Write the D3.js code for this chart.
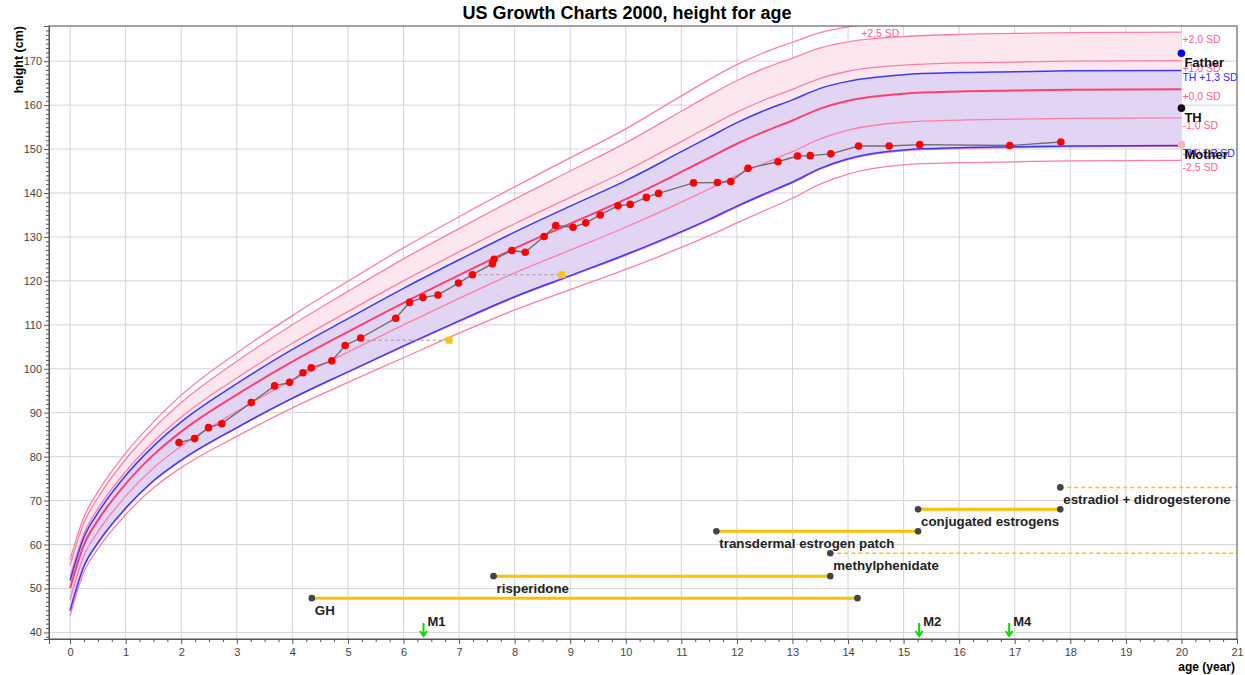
<!DOCTYPE html>
<html>
<head>
<meta charset="utf-8">
<script src="https://cdn.jsdelivr.net/npm/d3@7"></script>
<style>
  body { margin: 0; background: #fff; }
  text { font-family: "Liberation Sans", Arial, sans-serif; }
</style>
</head>
<body>
<svg id="chart"></svg>
<script>
// reference curve ages (years)
const refAges = [0, 0.25, 0.5, 1, 1.5, 2, 3, 4, 5, 6, 7, 8, 9, 10, 11, 11.5, 12, 12.5, 13, 13.5, 14, 15, 16, 17, 18, 20];

// SD curves (cm)
const sdPlus25  = [56.6, 66.3, 72.0, 80.8, 87.9, 94.0, 103.6, 112.1, 119.9, 127.5, 134.6, 141.4, 148.0, 154.6, 162.1, 165.8, 169.2, 172.0, 174.3, 176.5, 177.8, 178.9, 179.4, 179.6, 179.8, 179.9];
const sdPlus20  = [55.3, 65.0, 70.7, 79.4, 86.4, 92.3, 101.7, 110.0, 117.6, 125.0, 131.9, 138.6, 145.0, 151.4, 158.6, 162.2, 165.6, 168.4, 170.7, 173.0, 174.4, 175.6, 176.1, 176.3, 176.5, 176.6];
const sdPlus10  = [52.7, 62.5, 68.1, 76.6, 83.4, 89.0, 97.9, 105.8, 113.0, 120.0, 126.6, 133.0, 139.0, 145.0, 151.7, 155.1, 158.4, 161.2, 163.6, 166.1, 167.7, 169.1, 169.6, 169.8, 170.0, 170.1];
const sdZero    = [50.1, 60.0, 65.5, 73.8, 80.4, 85.7, 94.1, 101.6, 108.4, 115.0, 121.3, 127.4, 133.0, 138.6, 144.8, 148.0, 151.2, 154.0, 156.5, 159.2, 161.0, 162.6, 163.1, 163.3, 163.5, 163.6];
const sdMinus10 = [47.5, 57.5, 62.9, 71.0, 77.4, 82.4, 90.3, 97.4, 103.8, 110.0, 116.0, 121.8, 127.0, 132.2, 137.9, 140.9, 144.0, 146.8, 149.4, 152.3, 154.3, 156.1, 156.6, 156.8, 157.0, 157.1];
const sdMinus20 = [44.9, 55.0, 60.3, 68.2, 74.4, 79.1, 86.5, 93.2, 99.2, 105.0, 110.7, 116.2, 121.0, 125.8, 131.0, 133.8, 136.8, 139.6, 142.3, 145.4, 147.6, 149.6, 150.1, 150.3, 150.5, 150.6];
const sdMinus25 = [43.8, 53.8, 59.0, 66.8, 72.9, 77.5, 84.6, 91.1, 96.9, 102.5, 108.1, 113.4, 118.0, 122.6, 127.6, 130.3, 133.2, 136.0, 138.8, 142.0, 144.3, 146.4, 146.9, 147.1, 147.3, 147.4];

// target height range (TH +/- 1,3 SD)
const thUpper = [51.8, 61.7, 67.2, 75.7, 82.4, 87.9, 96.6, 104.4, 111.4, 118.3, 124.8, 131.1, 137.0, 142.8, 149.4, 152.7, 156.0, 158.8, 161.2, 163.8, 165.4, 166.9, 167.4, 167.6, 167.8, 167.9];
const thLower = [45.0, 55.1, 60.4, 68.3, 74.5, 79.2, 86.6, 93.3, 99.3, 105.2, 110.9, 116.4, 121.2, 126.0, 131.2, 134.0, 137.0, 139.8, 142.5, 145.6, 147.8, 149.8, 150.3, 150.5, 150.7, 150.8];

// patient measurements
const measAge = [1.96, 2.24, 2.49, 2.73, 3.26, 3.68, 3.95, 4.19, 4.34, 4.71, 4.95, 5.23, 5.86, 6.11, 6.35, 6.62, 6.99, 7.24, 7.60, 7.63, 7.95, 8.19, 8.53, 8.74, 9.05, 9.28, 9.54, 9.86, 10.08, 10.37, 10.59, 11.22, 11.65, 11.89, 12.20, 12.74, 13.09, 13.32, 13.69, 14.19, 14.74, 15.29, 16.91, 17.83];
const measHeight = [83.2, 84.1, 86.6, 87.5, 92.3, 96.1, 96.9, 99.1, 100.2, 101.8, 105.3, 107.0, 111.5, 115.1, 116.2, 116.8, 119.5, 121.4, 123.9, 124.9, 126.9, 126.5, 130.1, 132.6, 132.2, 133.2, 135.0, 137.1, 137.4, 139.0, 139.9, 142.3, 142.4, 142.6, 145.6, 147.1, 148.4, 148.5, 148.9, 150.7, 150.7, 151.0, 150.8, 151.6];

// bone age
const boneChronoAge = [5.23, 7.24];
const boneAgeVal = [6.82, 8.85];
const boneHeight = [106.5, 121.4];

// parents and target height, plotted at age 20
const famNames = ["Father", "TH", "Mother"];
const famHeight = [171.8, 159.3, 151.0];
const famColor = ["#0000ff", "#111111", "#ffb3bd"];

// treatments
const txNames = ["GH", "risperidone", "methylphenidate", "transdermal estrogen patch", "conjugated estrogens", "estradiol + didrogesterone"];
const txStart = [4.35, 7.62, 13.68, 11.63, 15.26, 17.82];
const txEnd = [14.17, 13.68, null, 15.26, 17.82, null];
const txRow = [47.8, 52.8, 58.0, 63.0, 68.0, 73.0];

// pubertal milestones
const msNames = ["M1", "M2", "M4"];
const msAge = [6.36, 15.28, 16.9];

const width = 1245, height = 675;
const margin = { top: 26, right: 8, bottom: 36, left: 49 };

const svg = d3.select("#chart").attr("width", width).attr("height", height);

const x = d3.scaleLinear().domain([-0.38, 21]).range([margin.left, width - margin.right]);
const y = d3.scaleLinear().domain([38.5, 178]).range([height - margin.bottom, margin.top]);

const x0 = x.range()[0], x1 = x.range()[1], yB = y.range()[0], yT = y.range()[1];

svg.append("defs").append("clipPath").attr("id", "plot")
  .append("rect").attr("x", x0).attr("y", yT).attr("width", x1 - x0).attr("height", yB - yT);

// title
svg.append("text")
  .attr("x", 627).attr("y", 19)
  .attr("text-anchor", "middle")
  .style("font-size", "18px").style("font-weight", "bold")
  .text("US Growth Charts 2000, height for age");

// grid
const grid = svg.append("g").attr("stroke", "#d4d4d4").attr("stroke-width", 1);
grid.selectAll(".vx").data(d3.range(0, 21)).join("line")
  .attr("x1", d => x(d)).attr("x2", d => x(d)).attr("y1", yT).attr("y2", yB);
grid.selectAll(".hy").data(d3.range(40, 171, 10)).join("line")
  .attr("x1", x0).attr("x2", x1).attr("y1", d => y(d)).attr("y2", d => y(d));

const plot = svg.append("g").attr("clip-path", "url(#plot)");

const idx = d3.range(refAges.length);
const band = (lo, hi) => d3.area().curve(d3.curveMonotoneX)
  .x(i => x(refAges[i])).y0(i => y(lo[i])).y1(i => y(hi[i]));
const curve = arr => d3.line().curve(d3.curveMonotoneX)
  .x(i => x(refAges[i])).y(i => y(arr[i]));

plot.append("path").datum(idx).attr("fill", "#fde7ef").attr("d", band(sdMinus20, sdPlus20));
plot.append("path").datum(idx).attr("fill", "#e2d4f3").attr("d", band(thLower, thUpper));

const sdLines = [sdPlus25, sdPlus20, sdPlus10, sdMinus10, sdMinus20, sdMinus25];
sdLines.forEach(arr => {
  plot.append("path").datum(idx).attr("fill", "none")
    .attr("stroke", "#ff7ea6").attr("stroke-width", 1.3).attr("d", curve(arr));
});
plot.append("path").datum(idx).attr("fill", "none")
  .attr("stroke", "#ff3f72").attr("stroke-width", 2).attr("d", curve(sdZero));
[thUpper, thLower].forEach(arr => {
  plot.append("path").datum(idx).attr("fill", "none")
    .attr("stroke", "#3838ff").attr("stroke-width", 1.5).attr("d", curve(arr));
});

// SD labels at the right end
const last = refAges.length - 1;
const sdLabels = [
  { t: "+2,0 SD", v: sdPlus20[last], c: "#ff5c8d" },
  { t: "+1,0 SD", v: sdPlus10[last], c: "#ff5c8d" },
  { t: "TH +1,3 SD", v: thUpper[last], c: "#2a2aff" },
  { t: "+0,0 SD", v: sdZero[last], c: "#ff5c8d" },
  { t: "-1,0 SD", v: sdMinus10[last], c: "#ff5c8d" },
  { t: "-2,0 SD", v: sdMinus20[last], c: "#ff5c8d" },
  { t: "TH -1,3 SD", v: thLower[last], c: "#2a2aff" },
  { t: "-2,5 SD", v: sdMinus25[last], c: "#ff5c8d" }
];
svg.selectAll(".sdl").data(sdLabels).join("text")
  .attr("x", x(20) + 1).attr("y", d => y(d.v) + 11)
  .attr("fill", d => d.c).style("font-size", "10.5px")
  .text(d => d.t);

// +2,5 SD label where the curve leaves the top
const topIdx = sdPlus25.findIndex(v => v > y.domain()[1]);
const crossAge = refAges[topIdx - 1] + (y.domain()[1] - sdPlus25[topIdx - 1]) /
  (sdPlus25[topIdx] - sdPlus25[topIdx - 1]) * (refAges[topIdx] - refAges[topIdx - 1]);
svg.append("text").attr("x", x(crossAge) + 3).attr("y", yT + 11)
  .attr("fill", "#ff5c8d").style("font-size", "10.5px").text("+2,5 SD");

// bone age
boneChronoAge.forEach((a, i) => {
  plot.append("line")
    .attr("x1", x(a)).attr("x2", x(boneAgeVal[i]))
    .attr("y1", y(boneHeight[i])).attr("y2", y(boneHeight[i]))
    .attr("stroke", "#999").attr("stroke-dasharray", "3,3");
});
plot.selectAll(".ba").data(boneAgeVal).join("rect")
  .attr("x", d => x(d) - 3.5).attr("y", (d, i) => y(boneHeight[i]) - 3.5)
  .attr("width", 7).attr("height", 7).attr("fill", "#ffc20e");

// measurements
const meas = d3.range(measAge.length);
plot.append("path").datum(meas).attr("fill", "none").attr("stroke", "#6e6e6e").attr("stroke-width", 1.4)
  .attr("d", d3.line().x(i => x(measAge[i])).y(i => y(measHeight[i])));
plot.selectAll(".pt").data(meas).join("circle")
  .attr("cx", i => x(measAge[i])).attr("cy", i => y(measHeight[i]))
  .attr("r", 3.8).attr("fill", "#ff0000");

// treatments
txNames.forEach((name, i) => {
  const xs = x(txStart[i]);
  const xe = txEnd[i] === null ? x1 : x(txEnd[i]);
  const yy = y(txRow[i]);
  svg.append("line").attr("x1", xs).attr("x2", xe).attr("y1", yy).attr("y2", yy)
    .attr("stroke", "#ffc000")
    .attr("stroke-width", txEnd[i] === null ? 1.5 : 3)
    .attr("stroke-dasharray", txEnd[i] === null ? "4,3" : null);
  svg.append("circle").attr("cx", xs).attr("cy", yy).attr("r", 3.3).attr("fill", "#444");
  if (txEnd[i] !== null) svg.append("circle").attr("cx", xe).attr("cy", yy).attr("r", 3.3).attr("fill", "#444");
  svg.append("text").attr("x", xs + 3).attr("y", yy + 17)
    .style("font-size", "13.3px").style("font-weight", "bold").attr("fill", "#222").text(name);
});

// milestones
msNames.forEach((name, i) => {
  const xm = x(msAge[i]);
  svg.append("path")
    .attr("d", `M${xm},${yB - 16}V${yB - 4}M${xm - 3.5},${yB - 8}L${xm},${yB - 3}L${xm + 3.5},${yB - 8}`)
    .attr("fill", "none").attr("stroke", "#00dd00").attr("stroke-width", 2);
  svg.append("text").attr("x", xm + 4).attr("y", yB - 13)
    .style("font-size", "13px").style("font-weight", "bold").attr("fill", "#222").text(name);
});

// parents and target height
famNames.forEach((name, i) => {
  svg.append("circle").attr("cx", x(20)).attr("cy", y(famHeight[i])).attr("r", 3.8).attr("fill", famColor[i]);
  svg.append("text").attr("x", x(20) + 3).attr("y", y(famHeight[i]) + 14)
    .style("font-size", "13px").style("font-weight", "bold").attr("fill", "#111").text(name);
});

// frame
svg.append("rect").attr("x", x0).attr("y", yT).attr("width", x1 - x0).attr("height", yB - yT)
  .attr("fill", "none").attr("stroke", "#666").attr("stroke-width", 1.2);

// axes
svg.append("g").attr("transform", `translate(0,${yB})`)
  .call(d3.axisBottom(x).tickValues(d3.range(0, 22)).tickFormat(d3.format("d")).tickSize(5).tickPadding(4));
svg.append("g").attr("transform", `translate(0,${yB})`)
  .call(d3.axisBottom(x).tickValues(d3.range(0, 21, 0.25).filter(d => d % 1 !== 0)).tickFormat("").tickSize(3))
  .select(".domain").remove();
svg.append("g").attr("transform", `translate(${x0},0)`)
  .call(d3.axisLeft(y).tickValues(d3.range(40, 171, 10)).tickSize(5).tickPadding(2));
svg.append("g").attr("transform", `translate(${x0},0)`)
  .call(d3.axisLeft(y).tickValues(d3.range(39, 178, 1).filter(d => d % 10 !== 0)).tickFormat("").tickSize(3))
  .select(".domain").remove();
svg.selectAll(".tick text").style("font-size", "11px").attr("fill", "#444");
svg.selectAll(".domain, .tick line").attr("stroke", "#555");

svg.append("text")
  .attr("transform", "translate(23,26) rotate(-90)")
  .attr("text-anchor", "end")
  .style("font-size", "12.5px").style("font-weight", "bold")
  .text("height (cm)");
svg.append("text")
  .attr("x", 1235).attr("y", 671)
  .attr("text-anchor", "end")
  .style("font-size", "12px").style("font-weight", "bold")
  .text("age (year)");
</script>
</body>
</html>
